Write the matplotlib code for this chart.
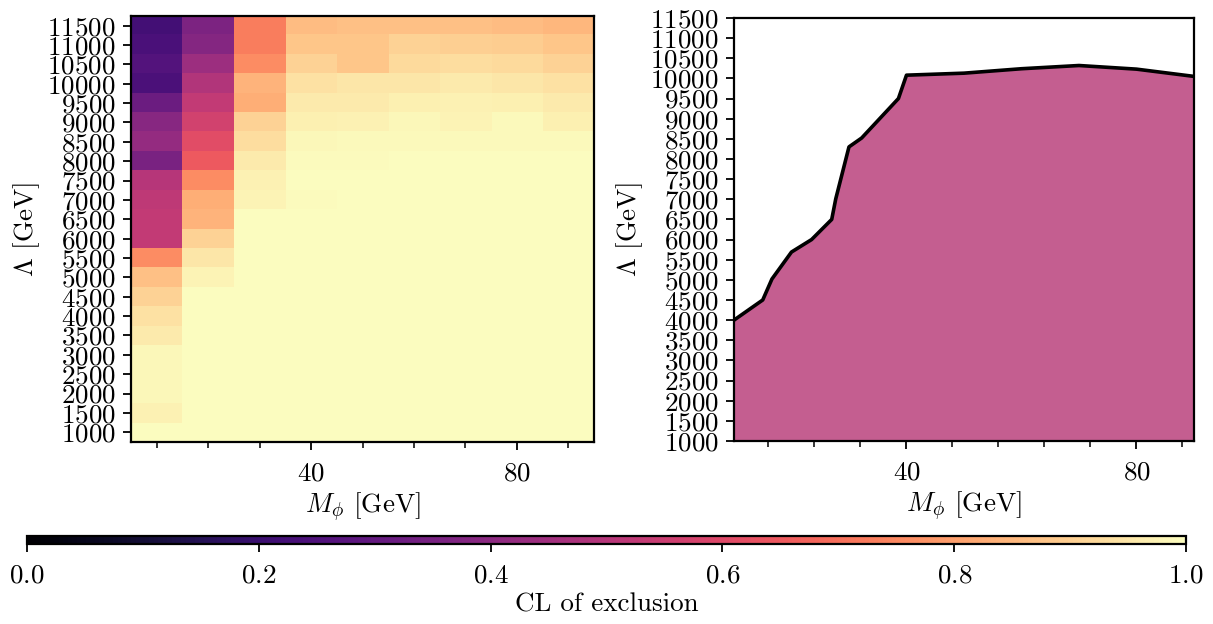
import numpy as np
import matplotlib
matplotlib.use("Agg")
import matplotlib.pyplot as plt
from matplotlib.ticker import MultipleLocator, AutoMinorLocator

plt.rcParams['font.family'] = 'serif'
plt.rcParams['font.serif'] = ['cmr10', 'DejaVu Serif']
plt.rcParams['mathtext.fontset'] = 'cm'
plt.rcParams['axes.formatter.use_mathtext'] = True
plt.rcParams['font.size'] = 19.5

# grid of the scan
masses = [10, 20, 30, 40, 50, 60, 70, 80, 90]
lambdas = list(range(1000, 12000, 500))  # 1000 ... 11500

# CL of exclusion per mass column, Lambda from 1000 up to 11500
cl_m10 = [1.0, 0.975, 0.985, 0.985, 0.985, 0.96, 0.94, 0.91, 0.87, 0.76, 0.53,
          0.53, 0.52, 0.50, 0.355, 0.42, 0.39, 0.32, 0.24, 0.26, 0.235, 0.22]
cl_m20 = [1.0, 1.0, 1.0, 1.0, 1.0, 1.0, 1.0, 1.0, 0.98, 0.95, 0.91,
          0.84, 0.83, 0.76, 0.65, 0.61, 0.57, 0.53, 0.49, 0.44, 0.38, 0.36]
cl_m30 = [1.0, 1.0, 1.0, 1.0, 1.0, 1.0, 1.0, 1.0, 1.0, 1.0, 1.0,
          1.0, 0.98, 0.975, 0.96, 0.93, 0.91, 0.83, 0.84, 0.76, 0.73, 0.73]
cl_m40 = [1.0, 1.0, 1.0, 1.0, 1.0, 1.0, 1.0, 1.0, 1.0, 1.0, 1.0,
          1.0, 0.995, 1.0, 0.995, 0.985, 0.97, 0.96, 0.94, 0.91, 0.88, 0.86]
cl_m50 = [1.0, 1.0, 1.0, 1.0, 1.0, 1.0, 1.0, 1.0, 1.0, 1.0, 1.0,
          1.0, 1.0, 1.0, 0.995, 0.99, 0.975, 0.96, 0.95, 0.88, 0.88, 0.87]
cl_m60 = [1.0, 1.0, 1.0, 1.0, 1.0, 1.0, 1.0, 1.0, 1.0, 1.0, 1.0,
          1.0, 1.0, 1.0, 1.0, 0.99, 0.985, 0.97, 0.95, 0.925, 0.91, 0.87]
cl_m70 = [1.0, 1.0, 1.0, 1.0, 1.0, 1.0, 1.0, 1.0, 1.0, 1.0, 1.0,
          1.0, 1.0, 1.0, 1.0, 0.99, 0.978, 0.975, 0.96, 0.93, 0.90, 0.87]
cl_m80 = [1.0, 1.0, 1.0, 1.0, 1.0, 1.0, 1.0, 1.0, 1.0, 1.0, 1.0,
          1.0, 1.0, 1.0, 1.0, 0.99, 0.99, 0.97, 0.95, 0.925, 0.895, 0.86]
cl_m90 = [1.0, 1.0, 1.0, 1.0, 1.0, 1.0, 1.0, 1.0, 1.0, 1.0, 1.0,
          1.0, 1.0, 1.0, 1.0, 0.99, 0.97, 0.96, 0.94, 0.91, 0.88, 0.85]

# exclusion contour (95% CL boundary)
contour_m = [10, 15, 16.6, 20, 23.5, 27, 27.7, 30, 32.2, 38.6, 40, 50, 60, 70, 80, 90]
contour_lam = [4000, 4500, 5020, 5690, 6000, 6500, 7010, 8300, 8520, 9500, 10080,
               10130, 10240, 10320, 10230, 10050]

cl_grid = np.array([cl_m10, cl_m20, cl_m30, cl_m40, cl_m50,
                    cl_m60, cl_m70, cl_m80, cl_m90]).T

fig = plt.figure(figsize=(12.13, 6.24), dpi=100)
ax1 = fig.add_axes([0.108, 0.2917, 0.3817, 0.6827])
ax2 = fig.add_axes([0.6051, 0.2933, 0.3792, 0.6779])
cax = fig.add_axes([0.0223, 0.1275, 0.9555, 0.0135])

dm = (masses[1] - masses[0]) / 2
dl = (lambdas[1] - lambdas[0]) / 2
im = ax1.imshow(cl_grid, origin='lower', aspect='auto', cmap='magma',
                vmin=0, vmax=1, interpolation='nearest',
                extent=[masses[0] - dm, masses[-1] + dm,
                        lambdas[0] - dl, lambdas[-1] + dl])
ax1.set_yticks(lambdas)
ax1.xaxis.set_major_locator(MultipleLocator(40))
ax1.xaxis.set_minor_locator(MultipleLocator(10))
ax1.set_xlabel(r'$M_\phi$ [GeV]')
ax1.set_ylabel(r'$\Lambda$ [GeV]')

# right panel: excluded region
ax2.fill_between(contour_m, lambdas[0], contour_lam, color='#c45e90', lw=0)
ax2.plot(contour_m, contour_lam, color='black', lw=2.6)
ax2.set_xlim(10, 90)
ax2.set_ylim(lambdas[0], lambdas[-1])
ax2.set_yticks(lambdas)
ax2.xaxis.set_major_locator(MultipleLocator(40))
ax2.xaxis.set_minor_locator(AutoMinorLocator(5))
ax2.set_xlabel(r'$M_\phi$ [GeV]')
ax2.set_ylabel(r'$\Lambda$ [GeV]')

for ax in (ax1, ax2):
    for s in ax.spines.values():
        s.set_linewidth(1.6)
    ax.tick_params(which='major', length=6, width=1.3)
    ax.tick_params(axis='y', pad=5)
    ax.tick_params(axis='x', pad=8)
    ax.tick_params(which='minor', length=4, width=1.1)
    ax.yaxis.labelpad = 4

cb = fig.colorbar(im, cax=cax, orientation='horizontal')
cb.set_ticks([0.0, 0.2, 0.4, 0.6, 0.8, 1.0])
cb.set_label('CL of exclusion', labelpad=4)
cb.outline.set_linewidth(1.6)
cax.tick_params(length=6, width=1.3, pad=8)

fig.savefig('out.png', dpi=100)
